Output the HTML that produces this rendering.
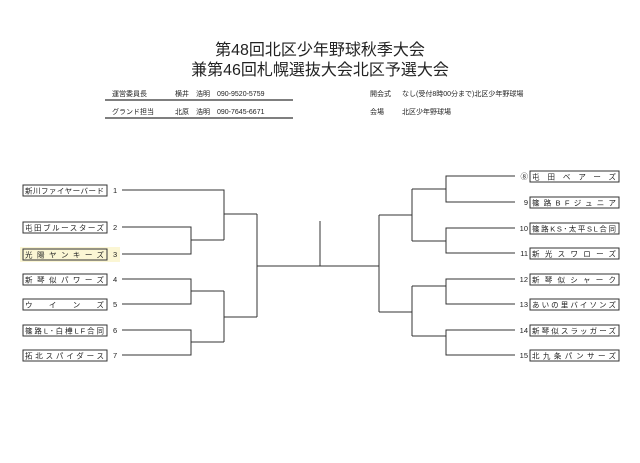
<!DOCTYPE html>
<html><head><meta charset="utf-8"><style>
html,body{margin:0;padding:0;background:#fff;}
svg{display:block;}
text{font-family:"Liberation Sans","Noto Sans CJK JP",sans-serif;fill:#222;}
</style></head><body>
<svg width="640" height="463" viewBox="0 0 640 463" xmlns="http://www.w3.org/2000/svg">
<rect width="640" height="463" fill="#fff"/>
<text x="320" y="55" font-size="16" text-anchor="middle" fill="#111">第48回北区少年野球秋季大会</text>
<text x="320" y="75" font-size="16" text-anchor="middle" fill="#111">兼第46回札幌選抜大会北区予選大会</text>
<g font-size="7" fill="#333">
<text x="112" y="96">運営委員長</text><text x="175" y="96">横井　浩明　090-9520-5759</text>
<text x="112" y="114">グランド担当</text><text x="175" y="114">北原　浩明　090-7645-6671</text>
<text x="370" y="96">開会式</text><text x="402" y="96">なし(受付8時00分まで)北区少年野球場</text>
<text x="370" y="114">会場</text><text x="402" y="114">北区少年野球場</text>
</g>
<g stroke="#333" stroke-width="1.2"><line x1="105" y1="100" x2="293" y2="100"/><line x1="105" y1="118" x2="293" y2="118"/></g>
<g fill="none" stroke="#333" stroke-width="1">
<polyline points="122,190 224,190 224,240"/>
<polyline points="122,227 191,227 191,254 122,254"/>
<line x1="191" y1="240" x2="224" y2="240"/>
<line x1="224" y1="214" x2="257" y2="214"/>
<polyline points="122,279 191,279 191,304 122,304"/>
<polyline points="122,330 191,330 191,355 122,355"/>
<line x1="191" y1="291" x2="224" y2="291"/>
<line x1="191" y1="342" x2="224" y2="342"/>
<line x1="224" y1="291" x2="224" y2="342"/>
<line x1="224" y1="317" x2="257" y2="317"/>
<line x1="257" y1="214" x2="257" y2="317"/>
<line x1="257" y1="266" x2="320" y2="266"/>
<line x1="320" y1="221" x2="320" y2="266"/>
<line x1="320" y1="266" x2="379" y2="266"/>
<line x1="379" y1="215" x2="379" y2="312"/>
<line x1="379" y1="215" x2="412" y2="215"/>
<line x1="379" y1="312" x2="412" y2="312"/>
<line x1="412" y1="189" x2="412" y2="241"/>
<line x1="412" y1="286" x2="412" y2="336"/>
<line x1="412" y1="189" x2="446" y2="189"/>
<line x1="412" y1="241" x2="446" y2="241"/>
<line x1="412" y1="286" x2="446" y2="286"/>
<line x1="412" y1="336" x2="446" y2="336"/>
<polyline points="515,176 446,176 446,202 515,202"/>
<polyline points="515,228 446,228 446,253 515,253"/>
<polyline points="515,279 446,279 446,304 515,304"/>
<polyline points="515,330 446,330 446,355 515,355"/>
</g>
<rect x="20" y="247" width="100" height="15" fill="#fbf6d4"/>
<g fill="#fff" stroke="#333" stroke-width="1">
<rect x="23" y="185" width="84" height="11"/>
<rect x="23" y="222" width="84" height="11"/>
<rect x="23" y="249" width="84" height="11" fill="#fbf6d4"/>
<rect x="23" y="274" width="84" height="11"/>
<rect x="23" y="299" width="84" height="11"/>
<rect x="23" y="325" width="84" height="11"/>
<rect x="23" y="350" width="84" height="11"/>
<rect x="530" y="171" width="89" height="11"/>
<rect x="530" y="197" width="89" height="11"/>
<rect x="530" y="223" width="89" height="11"/>
<rect x="530" y="248" width="89" height="11"/>
<rect x="530" y="274" width="89" height="11"/>
<rect x="530" y="299" width="89" height="11"/>
<rect x="530" y="325" width="89" height="11"/>
<rect x="530" y="350" width="89" height="11"/>
</g>
<g font-size="7.5" fill="#333">
<text x="25" y="193.5" textLength="79">新川ファイヤーバード</text>
<text x="25" y="230.5" textLength="79">屯田ブルースターズ</text>
<text x="25" y="257.5" textLength="79">光陽ヤンキーズ</text>
<text x="25" y="282.5" textLength="79">新琴似パワーズ</text>
<text x="25" y="307.5" textLength="79">ウインズ</text>
<text x="25" y="333.5" textLength="79">篠路L･白樺LF合同</text>
<text x="25" y="358.5" textLength="79">拓北スパイダース</text>
<text x="113" y="193">1</text><text x="113" y="230">2</text><text x="113" y="257">3</text><text x="113" y="282">4</text><text x="113" y="307">5</text><text x="113" y="333">6</text><text x="113" y="358">7</text>
<text x="532" y="179.5" textLength="84">屯田ベアーズ</text>
<text x="532" y="205.5" textLength="84">篠路BFジュニア</text>
<text x="532" y="231.5" textLength="84">篠路KS･太平SL合同</text>
<text x="532" y="256.5" textLength="84">新光スワローズ</text>
<text x="532" y="282.5" textLength="84">新琴似シャーク</text>
<text x="532" y="307.5" textLength="84">あいの里バイソンズ</text>
<text x="532" y="333.5" textLength="84">新琴似スラッガーズ</text>
<text x="532" y="358.5" textLength="84">北九条パンサーズ</text>
<g text-anchor="end">
<text x="528" y="179">⑧</text><text x="528" y="205">9</text><text x="528" y="231">10</text><text x="528" y="256">11</text><text x="528" y="282">12</text><text x="528" y="307">13</text><text x="528" y="333">14</text><text x="528" y="358">15</text>
</g>
</g>
</svg>
</body></html>
